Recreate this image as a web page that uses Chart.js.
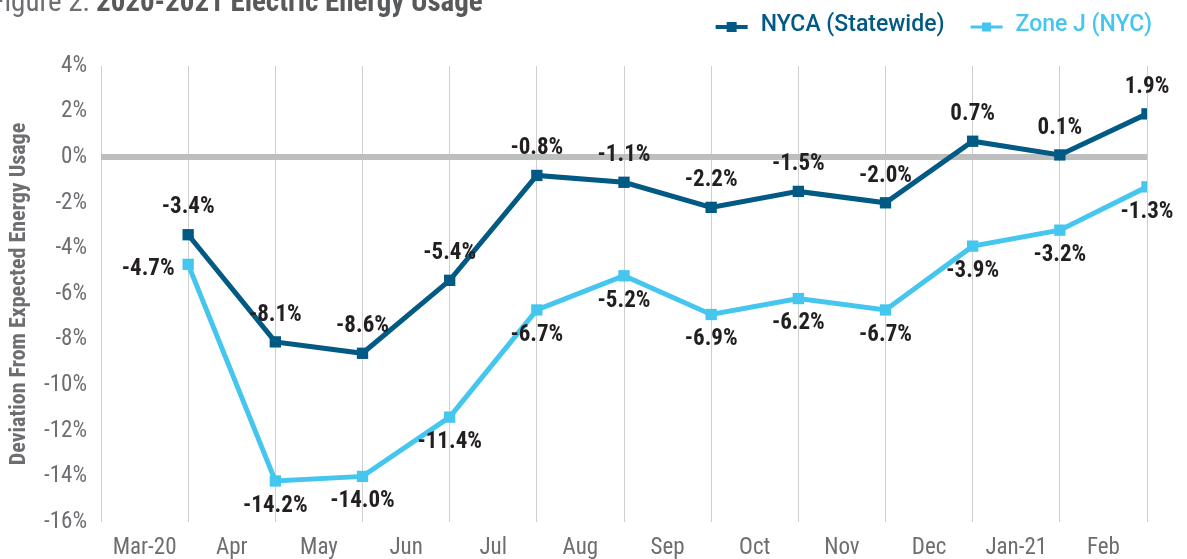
<!DOCTYPE html>
<html>
<head>
<meta charset="utf-8">
<script src="https://cdn.jsdelivr.net/npm/chart.js@4.4.1/dist/chart.umd.min.js"></script>
<style>
  html, body { margin: 0; padding: 0; background: #ffffff; }
  #wrap { width: 1187px; height: 559px; }
</style>
</head>
<body>
<div id="wrap"><canvas id="myChart" width="1187" height="559"></canvas></div>
<script>
// chart values
var months = ['Mar-20', 'Apr', 'May', 'Jun', 'Jul', 'Aug', 'Sep', 'Oct', 'Nov', 'Dec', 'Jan-21', 'Feb'];
var nycaValues = [-3.4, -8.1, -8.6, -5.4, -0.8, -1.1, -2.2, -1.5, -2.0, 0.7, 0.1, 1.9];
var zoneJValues = [-4.7, -14.2, -14.0, -11.4, -6.7, -5.2, -6.9, -6.2, -6.7, -3.9, -3.2, -1.3];
var yMin = -16, yMax = 4, yStep = 2;

var titleLight = 'Figure 2: ';
var titleBold = '2020-2021 Electric Energy Usage';
var yTitle = 'Deviation From Expected Energy Usage';

var darkBlue = '#005a84';
var lightBlue = '#45c6ee';
var gray = '#6d6e71';
var fontFam = "'Roboto Condensed', 'Liberation Sans Narrow', 'DejaVu Sans Condensed', Roboto, sans-serif";

function toPoints(values) {
    return values.map(function (v, i) { return { x: i + 1, y: v }; });
}

// title, legend and value labels
var extras = {
    id: 'extras',
    afterDraw: function (chart) {
        var ctx = chart.ctx;
        ctx.save();

        // title (clipped on the left, as in the source)
        ctx.textBaseline = 'alphabetic';
        ctx.textAlign = 'right';
        ctx.fillStyle = gray;
        ctx.font = '29px ' + fontFam;
        ctx.fillText(titleLight, 96, 11);
        ctx.textAlign = 'left';
        ctx.fillStyle = '#58595b';
        ctx.font = 'bold 29px ' + fontFam;
        ctx.fillText(titleBold, 96, 11);

        // legend
        ctx.font = '500 23px Roboto, sans-serif';
        ctx.textBaseline = 'middle';
        var items = chart.data.datasets;
        var right = 1152, gap = 26, markW = 32, markGap = 13;
        var widths = items.map(function (d) { return ctx.measureText(d.label).width; });
        var total = 0;
        widths.forEach(function (w) { total += markW + markGap + w; });
        total += gap * (items.length - 1);
        var x = right - total, ly = 27;
        items.forEach(function (d, i) {
            ctx.strokeStyle = d.borderColor;
            ctx.lineWidth = i === 0 ? 4 : 3;
            ctx.beginPath();
            ctx.moveTo(x, ly);
            ctx.lineTo(x + markW, ly);
            ctx.stroke();
            ctx.fillStyle = d.borderColor;
            var sq = i === 0 ? 10 : 9;
            ctx.fillRect(x + markW / 2 - sq / 2, ly - sq / 2, sq, sq);
            ctx.textAlign = 'left';
            ctx.fillText(d.label, x + markW + markGap, ly - 2);
            x += markW + markGap + widths[i] + gap;
        });

        // value labels
        ctx.font = 'bold 23px ' + fontFam;
        ctx.fillStyle = '#231f20';
        ctx.textAlign = 'center';
        ctx.textBaseline = 'middle';
        chart.data.datasets.forEach(function (d, di) {
            var meta = chart.getDatasetMeta(di);
            meta.data.forEach(function (pt, i) {
                var v = d.data[i].y;
                var txt = v.toFixed(1) + '%';
                var px = pt.x, py = pt.y;
                if (di === 0) {
                    py -= 27;
                } else if (i === 0) {
                    px -= 40; py += 5;
                } else {
                    py += 25;
                }
                ctx.fillText(txt, px, py);
            });
        });
        ctx.restore();
    }
};

var ctx = document.getElementById('myChart').getContext('2d');
var myChart = new Chart(ctx, {
    type: 'line',
    data: {
        datasets: [
            {
                label: 'NYCA (Statewide)',
                data: toPoints(nycaValues),
                borderColor: darkBlue,
                backgroundColor: darkBlue,
                borderWidth: 5,
                pointStyle: 'rect',
                pointRadius: 8,
                pointBorderWidth: 0,
                tension: 0,
                xAxisID: 'x',
                yAxisID: 'y'
            },
            {
                label: 'Zone J (NYC)',
                data: toPoints(zoneJValues),
                borderColor: lightBlue,
                backgroundColor: lightBlue,
                borderWidth: 5,
                pointStyle: 'rect',
                pointRadius: 8,
                pointBorderWidth: 0,
                tension: 0,
                xAxisID: 'x',
                yAxisID: 'y'
            }
        ]
    },
    options: {
        responsive: false,
        animation: false,
        devicePixelRatio: 1,
        layout: { padding: { top: 66, right: 40, left: 0, bottom: 0 } },
        plugins: {
            legend: { display: false },
            title: { display: false },
            tooltip: { enabled: false }
        },
        scales: {
            x: {
                type: 'linear',
                position: 'bottom',
                min: 0,
                max: months.length,
                weight: 2,
                ticks: { display: false, stepSize: 1 },
                grid: { color: '#cfcfcf', lineWidth: 1, drawTicks: false },
                border: { display: false },
                afterFit: function (s) { s.height = 0; }
            },
            months: {
                type: 'category',
                position: 'bottom',
                labels: months,
                offset: true,
                weight: 1,
                grid: { display: false, drawTicks: false },
                border: { display: false },
                ticks: {
                    color: gray,
                    font: { family: fontFam, size: 23 },
                    padding: 12,
                    autoSkip: false,
                    maxRotation: 0
                },
                afterFit: function (s) { s.height = 37; }
            },
            y: {
                min: yMin,
                max: yMax,
                ticks: {
                    stepSize: yStep,
                    color: gray,
                    font: { family: fontFam, size: 23 },
                    padding: 14,
                    callback: function (v) { return v + '%'; }
                },
                grid: {
                    drawTicks: false,
                    color: function (c) { return c.tick && c.tick.value === 0 ? '#bdbec0' : 'rgba(0,0,0,0)'; },
                    lineWidth: function (c) { return c.tick && c.tick.value === 0 ? 6 : 0; }
                },
                border: { display: false },
                title: {
                    display: true,
                    text: yTitle,
                    color: gray,
                    font: { family: fontFam, size: 22, weight: 'bold' },
                    padding: { top: 6, bottom: 4 }
                },
                afterFit: function (s) { s.width = 101; }
            }
        }
    },
    plugins: [extras]
});
</script>
</body>
</html>
